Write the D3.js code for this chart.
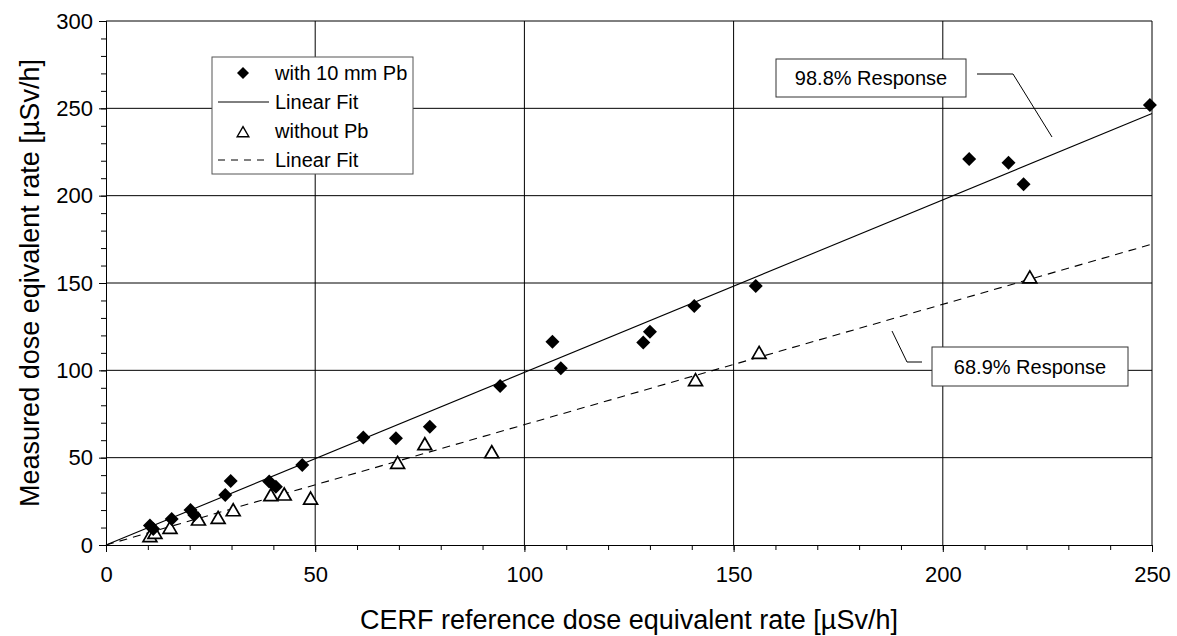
<!DOCTYPE html>
<html>
<head>
<meta charset="utf-8">
<script src="https://cdn.jsdelivr.net/npm/d3@7"></script>
<style>
    body { margin: 0; background: #fff; }
    text { font-family: Arial, "Liberation Sans", sans-serif; fill: #000; }
</style>
</head>
<body>
<svg width="1177" height="636"></svg>
<script>
// with 10 mm Pb
var withPbX = [10.5, 11.3, 15.7, 20.2, 21.1, 28.5, 29.8, 39.0, 40.6, 46.9, 61.5, 69.3, 77.4, 94.2, 106.7, 108.7, 128.4, 130.0, 140.6, 155.3, 206.3, 215.7, 219.3, 249.5];
var withPbY = [11.1, 9.2, 14.9, 20.0, 17.2, 28.6, 36.6, 36.3, 33.4, 45.8, 61.6, 61.1, 67.7, 91.0, 116.4, 101.2, 116.0, 122.1, 136.8, 148.3, 221.0, 218.9, 206.5, 251.9];
// without Pb
var noPbX = [10.5, 11.7, 15.3, 22.1, 26.8, 30.4, 39.4, 42.6, 48.9, 69.7, 76.2, 92.2, 140.9, 156.1, 220.8];
var noPbY = [5.2, 7.0, 9.9, 14.7, 15.6, 20.0, 28.6, 29.0, 26.7, 47.1, 57.8, 53.2, 94.5, 110.1, 153.3];
// linear fits through origin
var fitSlopes = [0.988, 0.689];
var xTicks = [0, 50, 100, 150, 200, 250];
var yTicks = [0, 50, 100, 150, 200, 250, 300];
var legendLabels = ["with 10 mm Pb", "Linear Fit", "without Pb", "Linear Fit"];
var calloutLabels = ["98.8% Response", "68.9% Response"];

var svg = d3.select("svg"),
        margin = {top: 21, right: 25, bottom: 91, left: 106},
        width = 1177 - margin.left - margin.right,
        height = 636 - margin.top - margin.bottom;

var x = d3.scaleLinear().domain([0, 250]).range([0, width]);
var y = d3.scaleLinear().domain([0, 300]).range([height, 0]);

var g = svg.append("g").attr("transform", "translate(" + margin.left + "," + margin.top + ")");

// grid
g.selectAll(".vgrid").data(xTicks.slice(1)).enter().append("line")
        .attr("x1", function (d) { return x(d); }).attr("x2", function (d) { return x(d); })
        .attr("y1", 0).attr("y2", height)
        .attr("stroke", "#000").attr("stroke-width", 1);
g.selectAll(".hgrid").data(yTicks.slice(1)).enter().append("line")
        .attr("x1", 0).attr("x2", width)
        .attr("y1", function (d) { return y(d); }).attr("y2", function (d) { return y(d); })
        .attr("stroke", "#000").attr("stroke-width", 1);

// axes with minor ticks
var xMinor = d3.axisBottom(x).tickValues(d3.range(0, 251, 10)).tickSize(5).tickFormat("");
var yMinor = d3.axisLeft(y).tickValues(d3.range(0, 301, 10)).tickSize(5).tickFormat("");
g.append("g").attr("transform", "translate(0," + height + ")").call(xMinor);
g.append("g").call(yMinor);

var xAxis = g.append("g").attr("transform", "translate(0," + height + ")")
        .call(d3.axisBottom(x).tickValues(xTicks).tickSize(7).tickPadding(14));
var yAxis = g.append("g")
        .call(d3.axisLeft(y).tickValues(yTicks).tickSize(7).tickPadding(6));
[xAxis, yAxis].forEach(function (a) {
    a.selectAll("text").style("font-size", "22px").attr("font-family", null);
    a.select(".domain").attr("stroke", "#000");
});
svg.selectAll(".tick line").attr("stroke", "#000");

// fit lines
var lineGen = d3.line().x(function (d) { return x(d[0]); }).y(function (d) { return y(d[1]); });
fitSlopes.forEach(function (s, i) {
    g.append("path")
            .attr("d", lineGen([[0, 0], [250, 250 * s]]))
            .attr("fill", "none")
            .attr("stroke", "#000")
            .attr("stroke-width", 1.1)
            .attr("stroke-dasharray", i === 1 ? "8,6" : null);
});

function diamond(s) {
    return "M0," + (-s) + "L" + s + ",0L0," + s + "L" + (-s) + ",0Z";
}
function triangle(s) {
    return "M0," + (-s) + "L" + (s * 1.1) + "," + (s * 0.9) + "L" + (-s * 1.1) + "," + (s * 0.9) + "Z";
}

// points
g.selectAll(".tri").data(noPbX).enter().append("path")
        .attr("transform", function (d, i) { return "translate(" + x(d) + "," + y(noPbY[i]) + ")"; })
        .attr("d", triangle(6.3))
        .attr("fill", "#fff").attr("stroke", "#000").attr("stroke-width", 1.7);
g.selectAll(".dia").data(withPbX).enter().append("path")
        .attr("transform", function (d, i) { return "translate(" + x(d) + "," + y(withPbY[i]) + ")"; })
        .attr("d", diamond(7))
        .attr("fill", "#000");

// legend
var lg = svg.append("g").attr("transform", "translate(212,57)");
lg.append("rect").attr("width", 201).attr("height", 117)
        .attr("fill", "#fff").attr("stroke", "#555").attr("stroke-width", 1);
legendLabels.forEach(function (t, i) {
    var cy = 16 + i * 29;
    if (i === 0) {
        lg.append("path").attr("transform", "translate(31," + cy + ")").attr("d", diamond(6)).attr("fill", "#000");
    } else if (i === 2) {
        lg.append("path").attr("transform", "translate(31," + (cy + 1) + ")").attr("d", triangle(5.3))
                .attr("fill", "#fff").attr("stroke", "#000").attr("stroke-width", 1.4);
    } else {
        lg.append("line").attr("x1", 6).attr("x2", 57).attr("y1", cy).attr("y2", cy)
                .attr("stroke", "#000").attr("stroke-width", 1)
                .attr("stroke-dasharray", i === 3 ? "7,6" : null);
    }
    lg.append("text").attr("x", 63).attr("y", cy).attr("dy", "0.35em")
            .style("font-size", "20px").text(t);
});

// callouts
var callouts = [
    {box: [776, 59, 190, 38], leader: [[977, 74], [1013, 74], [1052, 137]]},
    {box: [932, 347, 196, 39], leader: [[922, 362], [907, 362], [892, 331]]}
];
callouts.forEach(function (c, i) {
    svg.append("path").attr("d", d3.line()(c.leader))
            .attr("fill", "none").attr("stroke", "#000").attr("stroke-width", 1);
    svg.append("rect").attr("x", c.box[0]).attr("y", c.box[1])
            .attr("width", c.box[2]).attr("height", c.box[3])
            .attr("fill", "#fff").attr("stroke", "#333").attr("stroke-width", 1);
    svg.append("text").attr("x", c.box[0] + c.box[2] / 2).attr("y", c.box[1] + c.box[3] / 2)
            .attr("dy", "0.36em").attr("text-anchor", "middle")
            .style("font-size", "20px").text(calloutLabels[i]);
});

// axis titles
svg.append("text").attr("x", margin.left + width / 2).attr("y", 629)
        .attr("text-anchor", "middle").style("font-size", "27px")
        .text("CERF reference dose equivalent rate [µSv/h]");
svg.append("text").attr("transform", "translate(39," + (margin.top + height / 2) + ") rotate(-90)")
        .attr("text-anchor", "middle").style("font-size", "27px")
        .text("Measured dose eqivalent rate [µSv/h]");
</script>
</body>
</html>
